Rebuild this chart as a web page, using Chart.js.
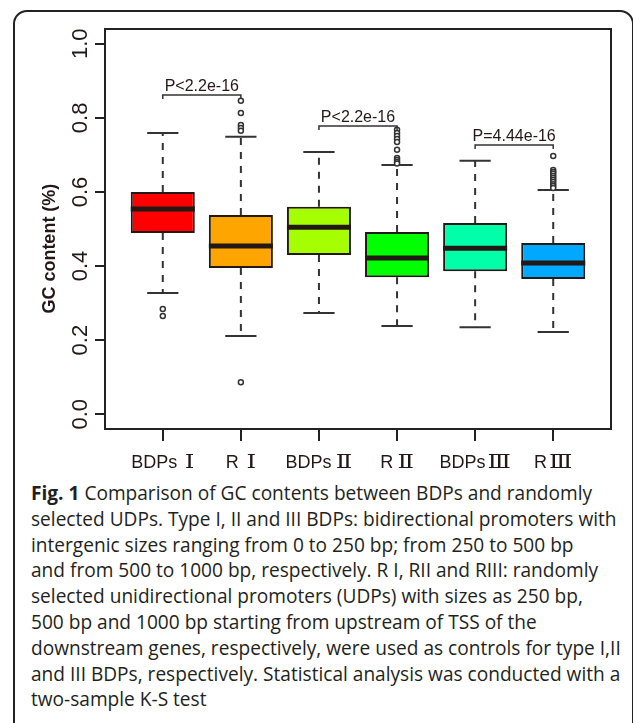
<!DOCTYPE html>
<html>
<head>
<meta charset="utf-8">
<script src="https://cdn.jsdelivr.net/npm/chart.js@4"></script>
<style>
  body { margin: 0; background: #fff; width: 633px; height: 723px; overflow: hidden; position: relative; }
  #frame { position: absolute; left: 13px; top: 10px; width: 617px; height: 800px; border: 2px solid #222; border-radius: 14px; }
  #chartBox { position: absolute; left: 0; top: 0; width: 633px; height: 480px; }
  #caption { position: absolute; left: 31px; top: 481px; font-family: "Open Sans", sans-serif; font-size: 19.1px; line-height: 25.8px; color: #231f20; white-space: nowrap; }
  #caption b { font-weight: 700; }
</style>
</head>
<body>
<div id="frame"></div>
<div id="chartBox"><canvas id="gcChart" width="633" height="480"></canvas></div>
<div id="caption">
  <b>Fig. 1</b> Comparison of GC contents between BDPs and randomly<br>
  selected UDPs. Type I, II and III BDPs: bidirectional promoters with<br>
  intergenic sizes ranging from 0 to 250 bp; from 250 to 500 bp<br>
  and from 500 to 1000 bp, respectively. R I, RII and RIII: randomly<br>
  selected unidirectional promoters (UDPs) with sizes as 250 bp,<br>
  500 bp and 1000 bp starting from upstream of TSS of the<br>
  downstream genes, respectively, were used as controls for type I,II<br>
  and III BDPs, respectively. Statistical analysis was conducted with a<br>
  two-sample K-S test
</div>
<script>
// 组别（名称 + 罗马数字）
const categories = ['BDPsⅠ', 'RⅠ', 'BDPsⅡ', 'RⅡ', 'BDPsⅢ', 'RⅢ'];
const boxColors = ['#ff0000', '#ffa500', '#a6ff00', '#00ff00', '#00ffa8', '#00a8ff'];

// 箱线图统计量
const whiskerLow = [0.327, 0.211, 0.273, 0.238, 0.235, 0.222];
const q1Values = [0.489, 0.395, 0.430, 0.370, 0.386, 0.365];
const medianValues = [0.554, 0.454, 0.505, 0.422, 0.448, 0.408];
const q3Values = [0.600, 0.538, 0.560, 0.492, 0.516, 0.462];
const whiskerHigh = [0.759, 0.749, 0.708, 0.673, 0.684, 0.605];

// 离群点
const outliers = [
    [0.284, 0.265],
    [0.846, 0.813, 0.781, 0.773, 0.765, 0.086],
    [],
    [0.768, 0.759, 0.751, 0.743, 0.735, 0.714, 0.692, 0.686, 0.681, 0.677],
    [],
    [0.697, 0.659, 0.654, 0.649, 0.643, 0.638, 0.632, 0.627, 0.621, 0.616, 0.611]
];

// 显著性标注
const pairs = [[1, 2], [3, 4], [5, 6]];
const pairHeights = [0.862, 0.778, 0.727];
const pLabels = ['P<2.2e-16', 'P<2.2e-16', 'P=4.44e-16'];

const yTicks = [0, 0.2, 0.4, 0.6, 0.8, 1.0];

const ink = '#231815';
const latinFont = '"Liberation Sans", Arial, sans-serif';

const boxData = categories.map((c, i) => ({ x: i + 1, y: [q1Values[i], q3Values[i]] }));
const outlierData = [];
outliers.forEach((list, i) => list.forEach(v => outlierData.push({ x: i + 1, y: v })));

// 画须线、中位数、边框、坐标标签和P值
const boxExtras = {
    id: 'boxExtras',
    beforeDatasetsDraw(chart) {
        const { ctx, scales: { x, y } } = chart;
        ctx.save();
        ctx.strokeStyle = '#333';
        ctx.lineWidth = 2;
        categories.forEach((c, i) => {
            const px = x.getPixelForValue(i + 1);
            const capHalf = x.getPixelForValue(i + 1.2) - px;
            ctx.setLineDash([7, 7]);
            ctx.beginPath();
            ctx.moveTo(px, y.getPixelForValue(q3Values[i]));
            ctx.lineTo(px, y.getPixelForValue(whiskerHigh[i]));
            ctx.moveTo(px, y.getPixelForValue(q1Values[i]));
            ctx.lineTo(px, y.getPixelForValue(whiskerLow[i]));
            ctx.stroke();
            ctx.setLineDash([]);
            ctx.beginPath();
            ctx.moveTo(px - capHalf, y.getPixelForValue(whiskerHigh[i]));
            ctx.lineTo(px + capHalf, y.getPixelForValue(whiskerHigh[i]));
            ctx.moveTo(px - capHalf, y.getPixelForValue(whiskerLow[i]));
            ctx.lineTo(px + capHalf, y.getPixelForValue(whiskerLow[i]));
            ctx.stroke();
        });
        ctx.restore();
    },
    afterDatasetsDraw(chart) {
        const { ctx, chartArea, scales: { x, y } } = chart;
        ctx.save();
        // 中位数粗线
        ctx.strokeStyle = ink;
        ctx.lineWidth = 5;
        categories.forEach((c, i) => {
            const half = x.getPixelForValue(i + 1.41) - x.getPixelForValue(i + 1);
            const px = x.getPixelForValue(i + 1);
            const py = y.getPixelForValue(medianValues[i]);
            ctx.beginPath();
            ctx.moveTo(px - half, py);
            ctx.lineTo(px + half, py);
            ctx.stroke();
        });

        // 边框
        ctx.lineWidth = 2;
        ctx.strokeStyle = '#222';
        ctx.strokeRect(chartArea.left, chartArea.top, chartArea.right - chartArea.left, chartArea.bottom - chartArea.top);

        // P值括号
        ctx.lineWidth = 1.5;
        ctx.strokeStyle = '#333';
        ctx.fillStyle = ink;
        ctx.font = '16px ' + latinFont;
        ctx.textAlign = 'center';
        ctx.textBaseline = 'alphabetic';
        pairs.forEach((p, i) => {
            const x1 = x.getPixelForValue(p[0]);
            const x2 = x.getPixelForValue(p[1]);
            const py = y.getPixelForValue(pairHeights[i]);
            const drop = y.getPixelForValue(pairHeights[i] - 0.011);
            ctx.beginPath();
            ctx.moveTo(x1, drop);
            ctx.lineTo(x1, py);
            ctx.lineTo(x2, py);
            ctx.lineTo(x2, drop);
            ctx.stroke();
            ctx.fillText(pLabels[i], (x1 + x2) / 2, py - 4);
        });

        // X轴标签：拉丁字母 + 罗马数字（衬线、带横杠）
        ctx.textAlign = 'left';
        const latin = '18px ' + latinFont;
        const roman = '18px "DejaVu Serif", serif';
        const romanStretch = 1.35;
        categories.forEach((label, i) => {
            const head = label.slice(0, -1);
            const num = label.slice(-1);
            ctx.font = latin;
            const w1 = ctx.measureText(head).width;
            ctx.font = roman;
            const w2 = ctx.measureText(num).width * romanStretch;
            const gap = 2 + Math.max(0, (21 - w2) / 2);
            const start = x.getPixelForValue(i + 1) - (w1 + gap + w2) / 2;
            const base = chartArea.bottom + 39;
            ctx.font = latin;
            ctx.fillText(head, start, base);
            ctx.save();
            ctx.font = roman;
            ctx.translate(start + w1 + gap, base);
            ctx.scale(romanStretch, 1);
            ctx.fillText(num, 0, 0);
            ctx.restore();
        });
        ctx.textAlign = 'center';

        // Y轴刻度标签（竖排）
        ctx.font = '22px ' + latinFont;
        yTicks.forEach(v => {
            ctx.save();
            ctx.translate(chartArea.left - 18, y.getPixelForValue(v));
            ctx.rotate(-Math.PI / 2);
            ctx.fillText(v.toFixed(1), 0, 0);
            ctx.restore();
        });

        // Y轴标题
        ctx.font = 'bold 18px ' + latinFont;
        ctx.save();
        ctx.translate(chartArea.left - 50, y.getPixelForValue(0.447));
        ctx.rotate(-Math.PI / 2);
        ctx.fillText('GC content (%)', 0, 0);
        ctx.restore();
        ctx.restore();
    }
};

document.addEventListener('DOMContentLoaded', () => {
    const ctx = document.getElementById('gcChart').getContext('2d');

    new Chart(ctx, {
        type: 'bar',
        data: {
            datasets: [
                {
                    label: 'box',
                    data: boxData,
                    backgroundColor: boxColors,
                    borderColor: ink,
                    borderWidth: 2,
                    borderSkipped: false,
                    barPercentage: 0.82,
                    categoryPercentage: 1.0
                },
                {
                    type: 'scatter',
                    label: 'outliers',
                    data: outlierData,
                    pointStyle: 'circle',
                    pointRadius: 2.5,
                    pointBorderWidth: 1.5,
                    pointBorderColor: '#333',
                    pointBackgroundColor: '#fff',
                    showLine: false
                }
            ]
        },
        options: {
            responsive: false,
            animation: false,
            devicePixelRatio: 1,
            layout: { padding: { left: 65, right: 22, top: 29, bottom: 0 } },
            plugins: {
                legend: { display: false },
                tooltip: { enabled: false }
            },
            scales: {
                x: {
                    type: 'linear',
                    min: 0.26,
                    max: 6.74,
                    offset: false,
                    afterBuildTicks: scale => { scale.ticks = categories.map((c, i) => ({ value: i + 1 })); },
                    afterFit: scale => { scale.height = 51; },
                    border: { display: false },
                    grid: { offset: false, drawOnChartArea: false, drawTicks: true, tickLength: 12, color: '#222', lineWidth: 2 },
                    ticks: { display: false }
                },
                y: {
                    min: -0.04,
                    max: 1.04,
                    afterBuildTicks: scale => { scale.ticks = yTicks.map(v => ({ value: v })); },
                    afterFit: scale => { scale.width = 40; },
                    border: { display: false },
                    grid: { drawOnChartArea: false, drawTicks: true, tickLength: 10, color: '#222', lineWidth: 2 },
                    ticks: { display: false }
                }
            }
        },
        plugins: [boxExtras]
    });
});
</script>
</body>
</html>
